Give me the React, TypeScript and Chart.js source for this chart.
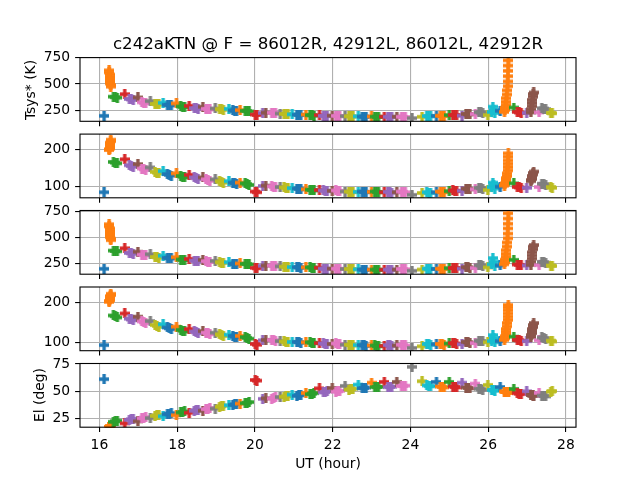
import { useEffect, useRef } from "react";
import Chart from "chart.js/auto";

const tab10 = [
  "#1f77b4", "#ff7f0e", "#2ca02c", "#d62728", "#9467bd",
  "#8c564b", "#e377c2", "#7f7f7f", "#bcbd22", "#17becf",
];
const fontFamily = "'DejaVu Sans', sans-serif";

const figTitle = "c242aKTN @ F = 86012R, 42912L, 86012L, 42912R";
const tsysLabel = "Tsys* (K)";
const elLabel = "El (deg)";
const xLabel = "UT (hour)";

const xTicks = [16, 18, 20, 22, 24, 26, 28];
const tsys86Ticks = [250, 500, 750];
const tsys42Ticks = [100, 200];
const elTicks = [25, 50, 75];

// one entry per scan, every scan holds the sample times (UT hours)
const scanTimes = [
  [16.12],
  [16.25, 16.25, 16.26, 16.26, 16.27, 16.27, 16.28, 16.28, 16.29, 16.29],
  [16.36, 16.41, 16.46], [16.65],
  [16.77, 16.82, 16.87], [16.99],
  [17.09, 17.14, 17.19], [17.31],
  [17.43, 17.48, 17.53], [17.64],
  [17.75, 17.8, 17.85], [17.98],
  [18.09, 18.14, 18.19], [18.31],
  [18.44, 18.49, 18.54], [18.66],
  [18.74, 18.79, 18.84], [18.98],
  [19.09, 19.14, 19.19], [19.33],
  [19.43, 19.48, 19.53], [19.62],
  [19.75, 19.8, 19.85],
  [20.01, 20.05],
  [20.2], [20.28],
  [20.43, 20.48, 20.53], [20.65],
  [20.75, 20.8, 20.85], [20.96],
  [21.08, 21.13, 21.18], [21.31],
  [21.42, 21.47, 21.52], [21.66],
  [21.76, 21.81, 21.86], [21.99],
  [22.08, 22.13, 22.18], [22.32],
  [22.42, 22.47, 22.52], [22.66],
  [22.76, 22.81, 22.86], [23.0],
  [23.08, 23.13, 23.18], [23.33],
  [23.42, 23.47, 23.52], [23.65],
  [23.77, 23.82, 23.87],
  [24.04],
  [24.3], [24.42, 24.47, 24.52],
  [24.67], [24.77, 24.82, 24.87],
  [25.0], [25.09, 25.14, 25.19],
  [25.33], [25.43, 25.48, 25.53],
  [25.67], [25.76, 25.81, 25.86],
  [25.99], [26.09, 26.12, 26.14, 26.17],
  [26.31],
  [26.42, 26.43, 26.44, 26.45, 26.46, 26.47, 26.48, 26.49, 26.5, 26.5, 26.51, 26.51, 26.52, 26.52],
  [26.66], [26.75, 26.8, 26.85],
  [26.99],
  [27.1, 27.11, 27.12, 27.13, 27.14, 27.15, 27.16, 27.17],
  [27.31], [27.38, 27.43, 27.48],
  [27.61, 27.65],
];

const tsys86R = [
  [198],
  [630, 610, 590, 570, 555, 540, 520, 505, 490, 475],
  [380, 375, 371], [404],
  [358, 354, 350], [373],
  [326, 322, 318], [338],
  [312, 309, 306], [322],
  [303, 300, 297], [316],
  [287, 284, 281], [293],
  [271, 268, 265], [284],
  [265, 262, 259], [268],
  [262, 259, 256], [265],
  [249, 246, 243], [252],
  [246, 243, 240],
  [210, 206],
  [225], [228],
  [228, 225, 222], [220],
  [217, 215, 213], [212],
  [209, 207, 205], [210],
  [205, 203, 201], [205],
  [198, 197, 196], [200],
  [198, 197, 196], [195],
  [194, 193, 192], [193],
  [191, 190, 189], [192],
  [190, 189, 188], [190],
  [189, 188, 187], [190],
  [189, 188, 187],
  [176],
  [189], [196, 195, 194],
  [198], [199, 198, 197],
  [205], [206, 205, 204],
  [200], [216, 214, 212],
  [215], [233, 230, 227],
  [205], [235, 285, 255, 225],
  [246],
  [235, 255, 275, 300, 330, 365, 400, 440, 480, 525, 575, 625, 675, 725],
  [277], [235, 230, 225],
  [225],
  [230, 260, 290, 320, 350, 380, 405, 420],
  [230], [270, 267, 262],
  [226, 222],
];

const tsys42L = [
  [84],
  [198, 200, 202, 205, 208, 211, 214, 218, 222, 226],
  [166, 164, 162], [173],
  [157, 155, 153], [160],
  [148, 146, 144], [151],
  [139, 137, 135], [141],
  [133, 131, 129], [135],
  [128, 126, 124], [131],
  [124, 122, 120], [124],
  [119, 117, 115], [119],
  [114, 112, 110], [114],
  [110, 108, 106], [110],
  [108, 106, 104],
  [86, 84],
  [101], [102],
  [100, 99, 98], [98],
  [97, 96, 95], [95],
  [94, 93, 92], [92],
  [91, 90, 89], [90],
  [89, 88, 87], [88],
  [89, 88, 87], [86],
  [86, 85, 84], [85],
  [86, 85, 84], [85],
  [86, 85, 84], [84],
  [85, 84, 83], [84],
  [86, 85, 84],
  [77],
  [82], [84, 83, 82],
  [84], [86, 85, 84],
  [87], [89, 88, 87],
  [88], [94, 93, 92],
  [92], [96, 95, 94],
  [90], [98, 110, 104, 94],
  [99],
  [102, 105, 108, 112, 117, 122, 128, 135, 143, 152, 161, 170, 180, 189],
  [108], [98, 97, 96],
  [96],
  [114, 117, 120, 124, 128, 132, 136, 140],
  [98], [107, 106, 104],
  [98, 96],
];

const tsys86L = [
  [197],
  [625, 605, 585, 565, 548, 532, 516, 500, 486, 472],
  [372, 368, 365], [394],
  [349, 346, 343], [361],
  [333, 330, 327], [337],
  [311, 308, 305], [323],
  [302, 299, 296], [308],
  [286, 283, 280], [292],
  [276, 273, 270], [283],
  [270, 267, 264], [273],
  [260, 257, 254], [261],
  [245, 242, 239], [248],
  [245, 242, 239],
  [206, 202],
  [226], [228],
  [228, 226, 224], [220],
  [218, 216, 214], [213],
  [212, 210, 208], [211],
  [211, 209, 207], [207],
  [198, 197, 196], [199],
  [198, 197, 196], [195],
  [195, 194, 193], [192],
  [189, 188, 187], [189],
  [189, 188, 187], [188],
  [189, 188, 187], [190],
  [195, 194, 193],
  [178],
  [190], [198, 197, 196],
  [195], [198, 197, 196],
  [203], [205, 204, 203],
  [198], [212, 210, 208],
  [204], [232, 229, 226],
  [210], [240, 300, 265, 225],
  [229],
  [240, 260, 285, 310, 340, 375, 410, 450, 490, 535, 585, 630, 680, 730],
  [283], [238, 235, 232],
  [229],
  [235, 265, 295, 325, 355, 385, 410, 425],
  [232], [264, 261, 256],
  [228, 224],
];

const tsys42R = [
  [93],
  [201, 203, 205, 207, 209, 211, 213, 215, 218, 221],
  [167, 165, 162], [172],
  [159, 157, 155], [164],
  [152, 150, 148], [153],
  [143, 141, 139], [145],
  [137, 135, 133], [139],
  [131, 129, 127], [133],
  [127, 125, 123], [128],
  [124, 122, 120], [124],
  [120, 118, 116], [119],
  [116, 114, 112], [116],
  [113, 111, 109],
  [96, 94],
  [105], [106],
  [106, 105, 104], [103],
  [102, 101, 100], [101],
  [101, 100, 99], [100],
  [100, 99, 98], [98],
  [97, 96, 95], [96],
  [97, 96, 95], [94],
  [94, 93, 92], [93],
  [93, 92, 91], [92],
  [92, 91, 90], [91],
  [93, 92, 91], [92],
  [94, 93, 92],
  [86],
  [90], [96, 95, 94],
  [95], [96, 95, 94],
  [97], [98, 97, 96],
  [95], [101, 100, 99],
  [98], [104, 103, 102],
  [100], [103, 118, 110, 100],
  [103],
  [106, 110, 115, 120, 126, 133, 140, 148, 156, 164, 172, 180, 187, 193],
  [114], [106, 105, 104],
  [103],
  [113, 118, 123, 128, 133, 138, 143, 148],
  [105], [112, 111, 109],
  [104, 102],
];

const elevation = [
  [61.0],
  [16.9, 16.9, 17.0, 17.0, 17.1, 17.1, 17.2, 17.2, 17.3, 17.3],
  [21.6, 22.1, 22.6], [20.1],
  [23.4, 23.9, 24.4], [22.0],
  [24.9, 25.4, 25.9], [25.0],
  [27.1, 27.6, 28.1], [26.7],
  [28.6, 29.1, 29.6], [27.6],
  [30.2, 30.7, 31.2], [30.0],
  [31.8, 32.3, 32.8], [31.8],
  [33.3, 33.8, 34.3], [33.8],
  [35.5, 36.0, 36.5], [36.9],
  [37.3, 37.8, 38.3], [38.4],
  [38.8, 39.3, 39.8],
  [60.3, 59.7],
  [42.8], [43.3],
  [43.1, 43.6, 44.1], [44.5],
  [44.7, 45.2, 45.7], [46.8],
  [45.6, 46.1, 46.6], [48.2],
  [47.1, 47.6, 48.1], [52.5],
  [48.7, 49.2, 49.7], [52.9],
  [49.4, 49.8, 50.2], [54.8],
  [51.3, 51.7, 52.1], [56.0],
  [52.6, 52.9, 53.2], [57.8],
  [53.6, 53.8, 54.0], [58.5],
  [53.6, 53.8, 54.0], [58.5],
  [54.6, 54.8, 55.0],
  [72.4],
  [59.1], [55.2, 54.8, 54.4],
  [58.5], [54.2, 53.8, 53.4],
  [58.5], [54.2, 53.8, 53.4],
  [57.8], [53.3, 52.9, 52.5],
  [56.9], [52.1, 51.7, 51.3],
  [55.7], [51.1, 50.9, 50.7, 50.5],
  [53.8],
  [49.6, 49.5, 49.4, 49.3, 49.2, 49.2, 49.1, 49.0, 48.9, 48.9, 48.8, 48.8, 48.7, 48.7],
  [52.0], [48.0, 47.6, 47.2],
  [49.8],
  [46.5, 46.4, 46.3, 46.2, 46.1, 46.0, 45.9, 45.8],
  [48.3], [45.9, 45.5, 45.1],
  [49.6, 50.0],
];

const panels = [
  { values: tsys86R, ticks: tsys86Ticks, min: 146, max: 751 },
  { values: tsys42L, ticks: tsys42Ticks, min: 69, max: 241 },
  { values: tsys86L, ticks: tsys86Ticks, min: 145, max: 757 },
  { values: tsys42R, ticks: tsys42Ticks, min: 79, max: 238 },
  { values: elevation, ticks: elTicks, min: 16.6, max: 75.5 },
];

// matplotlib default axes box: 80..576 px wide, 5 rows with hspace 0.2
const axesTops = [57.6, 134.1, 210.5, 287.0, 363.5];
const axesHeight = 63.7;
const xMin = 15.5;
const xMax = 28.26;

function plusMarker(color: string): HTMLCanvasElement {
  const s = 10;
  const c = document.createElement("canvas");
  c.width = s;
  c.height = s;
  const g = c.getContext("2d");
  if (!g) return c;
  const a = s / 3;
  const b = (2 * s) / 3;
  g.fillStyle = color;
  g.beginPath();
  g.moveTo(a, 0);
  g.lineTo(b, 0);
  g.lineTo(b, a);
  g.lineTo(s, a);
  g.lineTo(s, b);
  g.lineTo(b, b);
  g.lineTo(b, s);
  g.lineTo(a, s);
  g.lineTo(a, b);
  g.lineTo(0, b);
  g.lineTo(0, a);
  g.lineTo(a, a);
  g.closePath();
  g.fill();
  return c;
}

const framePlugin = {
  id: "frame",
  afterDatasetsDraw(chart: Chart) {
    const { ctx, chartArea } = chart;
    ctx.save();
    ctx.strokeStyle = "#000";
    ctx.lineWidth = 1.1;
    ctx.strokeRect(
      chartArea.left,
      chartArea.top,
      chartArea.right - chartArea.left,
      chartArea.bottom - chartArea.top,
    );
    ctx.restore();
  },
};

function Panel({ index }: { index: number }) {
  const ref = useRef<HTMLCanvasElement>(null);
  const last = index === panels.length - 1;
  const top = Math.floor(axesTops[index]) - 10;
  const height = last ? 480 - top : 90;

  useEffect(() => {
    const canvas = ref.current;
    if (!canvas) return;
    const p = panels[index];
    const padTop = axesTops[index] - top;
    const xAxisHeight = height - padTop - axesHeight;
    const tickFont = { family: fontFamily, size: 13.89 };

    const chart = new Chart(canvas, {
      type: "scatter",
      data: {
        datasets: scanTimes.map((times, i) => ({
          data: times.map((t, j) => ({ x: t, y: p.values[i][j] })),
          pointStyle: plusMarker(tab10[i % 10]),
          pointRadius: 5,
          pointHoverRadius: 5,
          order: -i,
          clip: 0,
        })),
      },
      options: {
        animation: false,
        responsive: true,
        maintainAspectRatio: false,
        events: [],
        layout: { padding: { top: padTop, right: 64, left: 0, bottom: 0 } },
        plugins: {
          legend: { display: false },
          tooltip: { enabled: false },
        },
        scales: {
          x: {
            type: "linear",
            min: xMin,
            max: xMax,
            afterBuildTicks: (axis: any) => {
              axis.ticks = xTicks.map((v) => ({ value: v }));
            },
            afterFit: (axis: any) => {
              axis.height = xAxisHeight;
              axis.paddingLeft = 0;
              axis.paddingRight = 0;
            },
            border: { display: false },
            grid: {
              color: "#b0b0b0",
              lineWidth: 1.1,
              tickColor: "#000",
              tickLength: 4.9,
              drawTicks: true,
            },
            ticks: {
              display: last,
              color: "#000",
              font: tickFont,
              padding: 4.9,
              autoSkip: false,
              maxRotation: 0,
            },
          },
          y: {
            type: "linear",
            min: p.min,
            max: p.max,
            afterBuildTicks: (axis: any) => {
              axis.ticks = p.ticks.map((v) => ({ value: v }));
            },
            afterFit: (axis: any) => {
              axis.width = 80;
              axis.paddingTop = 0;
              axis.paddingBottom = 0;
            },
            border: { display: false },
            grid: {
              color: "#b0b0b0",
              lineWidth: 1.1,
              tickColor: "#000",
              tickLength: 4.9,
            },
            ticks: {
              color: "#000",
              font: tickFont,
              padding: 4.9,
              autoSkip: false,
            },
          },
        },
      },
      plugins: [framePlugin],
    });

    return () => chart.destroy();
  }, [index, top, height]);

  return (
    <div style={{ position: "absolute", left: 0, top, width: 640, height }}>
      <canvas ref={ref} />
    </div>
  );
}

const textBase = {
  position: "absolute" as const,
  fontFamily,
  color: "#000",
  whiteSpace: "nowrap" as const,
  lineHeight: "normal",
};

export default function App() {
  return (
    <div
      style={{
        position: "fixed",
        left: 0,
        top: 0,
        width: 640,
        height: 480,
        background: "#fff",
        overflow: "hidden",
      }}
    >
      {panels.map((_, i) => (
        <Panel key={i} index={i} />
      ))}
      <div
        style={{
          ...textBase,
          left: 328,
          top: 33.8,
          fontSize: 16.67,
          transform: "translateX(-50%)",
        }}
      >
        {figTitle}
      </div>
      <div
        style={{
          ...textBase,
          left: 30.3,
          top: 89.5,
          fontSize: 13.89,
          transform: "translate(-50%, -50%) rotate(-90deg)",
        }}
      >
        {tsysLabel}
      </div>
      <div
        style={{
          ...textBase,
          left: 38.7,
          top: 395.3,
          fontSize: 13.89,
          transform: "translate(-50%, -50%) rotate(-90deg)",
        }}
      >
        {elLabel}
      </div>
      <div
        style={{
          ...textBase,
          left: 328,
          top: 455.4,
          fontSize: 13.89,
          transform: "translateX(-50%)",
        }}
      >
        {xLabel}
      </div>
    </div>
  );
}
